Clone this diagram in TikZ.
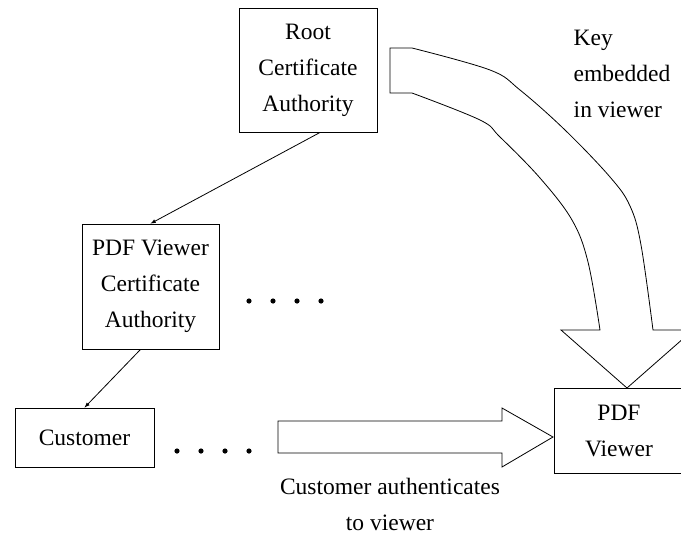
\documentclass[tikz,border=0pt]{standalone}
\usepackage{fontspec}
\setmainfont{Liberation Serif}
\usepackage{tikz}
\usetikzlibrary{positioning}

\begin{document}
\begin{tikzpicture}[x=1pt,y=-1pt,line width=0.8pt,
    font=\fontsize{23.5}{36}\selectfont,
    box/.style = {draw, align=center, inner sep=0pt},
    bigarrow/.style = {draw, fill=white, line join=miter}]
    \useasboundingbox (0,0) rectangle (681,536);
    \clip (0,0) rectangle (681,536);
    % certificate chain
    \node [box,minimum width=138,minimum height=124] (root) at (308,70) {Root\\Certificate\\Authority};
    \node [box,minimum width=137,minimum height=125] (viewerca) at (150.5,286.5) {PDF Viewer\\Certificate\\Authority};
    \node [box,minimum width=139,minimum height=59] (customer) at (84.5,437.5) {Customer};
    \node [box,minimum width=130,minimum height=85] (viewer) at (619,430.5) {PDF\\Viewer};
    \draw [-latex] (root.-79) -- (viewerca.north);
    \draw [-latex] (viewerca.-99) -- (customer.north);
    % dots
    \foreach \x in {249,273,297,321} \fill (\x,301) circle (2.6);
    \foreach \x in {177,201,225,249} \fill (\x,451) circle (2.6);
    % key embedded in viewer
    \draw [bigarrow] (390,48)
        -- plot [smooth,tension=0.6] coordinates {(412,48) (490,70) (520,90) (565,130) (610,177) (630,206) (641,245) (653,330)}
        -- (693,330) -- (627,388) -- (561,330)
        -- plot [smooth,tension=0.6] coordinates {(600,330) (588,262) (572,220) (540,178) (500,137) (480,120) (412,93)}
        -- (390,93) -- cycle;
    \node [align=left,anchor=north west] (keylabel) at (570,26) {Key\\embedded\\in viewer};
    % customer authenticates
    \draw [bigarrow] (278,421) -- (502,421) -- (502,408) -- (553,437)
        -- (502,467) -- (502,453) -- (278,453) -- cycle;
    \node [align=center] (authlabel) at (390,504) {Customer authenticates\\to viewer};
\end{tikzpicture}
\end{document}
